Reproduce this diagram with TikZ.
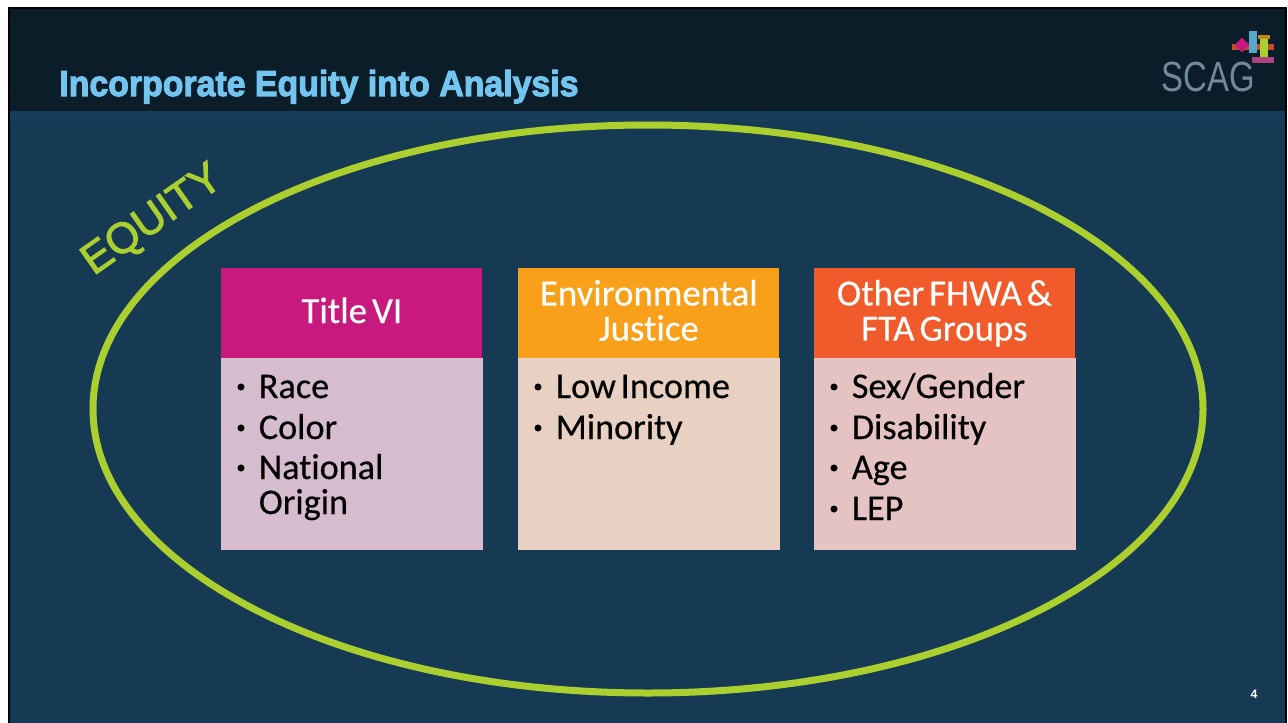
\documentclass[tikz,border=0pt]{standalone}
\usepackage{fontspec}
\setmainfont{Carlito}[Ligatures=NoCommon, FakeBold=0.4, WordSpace=0.6]
\newfontfamily\titlefont{Liberation Sans Bold}[FakeBold=3]
\newfontfamily\equityfont{Liberation Sans}[FakeBold=2.2]
\newfontfamily\logofont{Liberation Sans}
\usetikzlibrary{shapes.geometric, calc}
\definecolor{panel}{HTML}{163A54}
\definecolor{panel2}{HTML}{183D5A}
\definecolor{band}{HTML}{0C1D2A}
\definecolor{skyblue}{HTML}{73C5F0}
\definecolor{lime}{HTML}{AACF2F}
\definecolor{magenta1}{HTML}{C8197F}
\definecolor{orange1}{HTML}{F9A01B}
\definecolor{orange2}{HTML}{F15A2B}
\definecolor{pale1}{HTML}{D6BCCF}
\definecolor{pale2}{HTML}{E8D0C2}
\definecolor{pale3}{HTML}{E6C3C3}
\definecolor{logogray}{HTML}{6F8A9A}

\begin{document}
\begin{tikzpicture}[x=0.02cm, y=-0.02cm]
\tikzstyle{head} = [minimum width=261*0.02cm, minimum height=90*0.02cm, inner sep=0pt, anchor=north west, text=white, align=center, text height=15pt, text depth=4pt, font=\fontsize{21}{20}\selectfont]
\tikzstyle{headtwo} = [head, text height=35pt]
\tikzstyle{body} = [minimum width=262*0.02cm, minimum height=192*0.02cm, inner sep=0pt, anchor=north west]
\tikzstyle{item} = [inner sep=0pt, anchor=base west, text=black, font=\fontsize{20.6}{20.6}\selectfont]
\tikzstyle{dot} = [fill=black, circle, inner sep=0pt, minimum size=4pt]
\tikzstyle{bit} = [inner sep=0pt, anchor=center]

\useasboundingbox (0,0) rectangle (1288,723);
\fill [white] (0,0) rectangle (1288,723);

% slide
\fill [black] (8,7) rectangle (1287,723);
\fill [panel] (10,9) rectangle (1285,723);
\fill [band] (10,9) rectangle (1285,111);
\fill [panel2] (10,111) rectangle (1285,122);

% title
\node [inner sep=0pt, anchor=base west, text=skyblue, xscale=0.94] (title) at (59,96)
  {\titlefont\fontsize{20.5}{20.5}\selectfont Incorporate Equity into Analysis};

% logo
\node [inner sep=0pt, text=logogray, font=\logofont\fontsize{24}{24}\selectfont, xscale=0.78] (logo) at (1208.5,77) {SCAG};
\node [bit, fill=orange2!80!band, minimum width=24pt, minimum height=3.5pt] (bit1) at (1253,47) {};
\node [bit, fill=magenta1, minimum width=6pt, minimum height=6pt, rotate=45] (bit2) at (1242,45) {};
\node [bit, fill=cyan!60!gray, minimum width=5pt, minimum height=13pt] (bit3) at (1253,42) {};
\node [bit, fill=lime, minimum width=5pt, minimum height=11pt] (bit4) at (1264,48) {};
\node [bit, fill=orange1!80!band, minimum width=7pt, minimum height=2.5pt] (bit5) at (1264,37) {};
\node [bit, fill=magenta1!60!gray, minimum width=12pt, minimum height=3.5pt] (bit6) at (1263,60) {};

% big ellipse
\draw [lime, line width=7*0.02cm] (648,409) ellipse (555 and 284);
\node [inner sep=0pt, text=lime, rotate=35, font=\equityfont\fontsize{24.5}{24.5}\selectfont] (equity) at (153,221) {EQUITY};

% column 1
\node [body, fill=pale1] (body1) at (221,358) {};
\node [head, fill=magenta1] (head1) at (221,268) {Title VI};
\node [dot] (d11) at (241,387) {};
\node [item] (t11) at (258.5,398) {Race};
\node [dot] (d12) at (241,428) {};
\node [item] (t12) at (258.5,439) {Color};
\node [dot] (d13) at (241,468) {};
\node [item] (t13) at (258.5,479) {National};
\node [item] (t14) at (258.5,514) {Origin};

% column 2
\node [body, fill=pale2] (body2) at (518,358) {};
\node [headtwo, fill=orange1] (head2) at (518,268) {Environmental\\Justice};
\node [dot] (d21) at (538,387) {};
\node [item] (t21) at (555.5,398) {Low Income};
\node [dot] (d22) at (538,428) {};
\node [item] (t22) at (555.5,439) {Minority};

% column 3
\node [body, fill=pale3] (body3) at (813.5,358) {};
\node [headtwo, fill=orange2] (head3) at (813.5,268) {Other FHWA \&\\FTA Groups};
\node [dot] (d31) at (834,387) {};
\node [item] (t31) at (851.5,398) {Sex/Gender};
\node [dot] (d32) at (834,428) {};
\node [item] (t32) at (851.5,439) {Disability};
\node [dot] (d33) at (834,468) {};
\node [item] (t33) at (851.5,479) {Age};
\node [dot] (d34) at (834,509) {};
\node [item] (t34) at (851.5,520) {LEP};

% page number
\node [inner sep=0pt, text=white, font=\logofont\bfseries\fontsize{7}{7}\selectfont] (page) at (1254,694) {4};
\end{tikzpicture}
\end{document}
